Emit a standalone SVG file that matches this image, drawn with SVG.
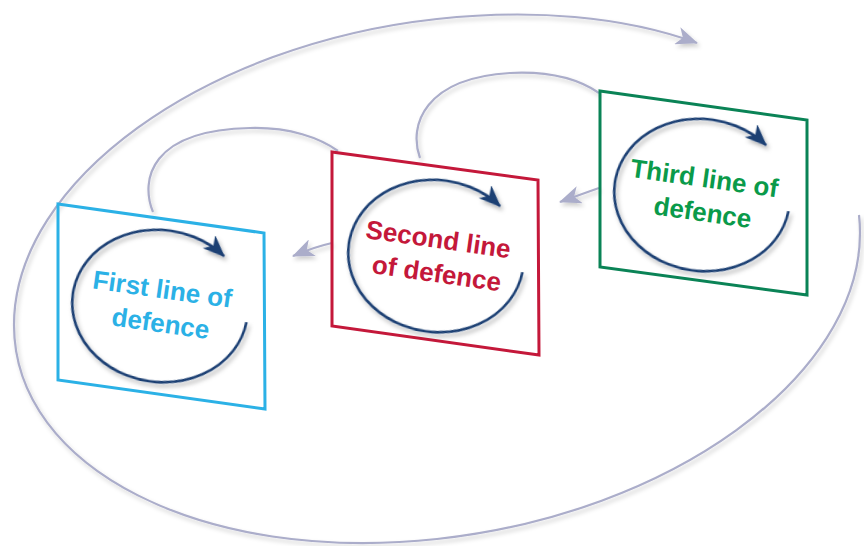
<svg xmlns="http://www.w3.org/2000/svg" width="864" height="546" viewBox="0 0 864 546">
<defs>
<style>
.flow{fill:none;stroke:#abadca;stroke-width:2.2}
.frame{fill:none;stroke-width:3}
.cyc{fill:none;stroke:#1b3f73;stroke-width:2.6}
.lbl{font-family:"Liberation Sans",Arial,sans-serif;font-weight:bold;font-size:26px;text-anchor:middle}
</style>
<filter id="sh" x="-20%" y="-20%" width="140%" height="140%">
<feDropShadow dx="2.5" dy="3" stdDeviation="2" flood-color="#000" flood-opacity="0.3"/>
</filter>
<filter id="sh2" x="-20%" y="-20%" width="140%" height="140%">
<feDropShadow dx="2" dy="3" stdDeviation="2" flood-color="#000" flood-opacity="0.2"/>
</filter>
<marker id="ah" viewBox="0 0 22 18" refX="21" refY="9" markerWidth="22" markerHeight="18" markerUnits="userSpaceOnUse" orient="auto">
<path d="M0,0 L22,9 L0,18 L6,9 Z" fill="#1b3f73"/>
</marker>
<marker id="ahg" viewBox="0 0 22 18" refX="21" refY="9" markerWidth="22" markerHeight="18" markerUnits="userSpaceOnUse" orient="auto">
<path d="M0,0 L22,9 L0,18 L6,9 Z" fill="#abadca"/>
</marker>
</defs>
<rect width="864" height="546" fill="#fff"/>
<g id="connectors" filter="url(#sh2)">
<path class="flow" marker-end="url(#ahg)" d="M 859 215 C 859.7 221, 860 226.9, 860 233 C 860 376.6, 670.6 513.6, 437 539 C 203.4 564.4, 14 468.6, 14 325 C 14 181.4, 203.4 44.4, 437 19 C 531.4 8.7, 623 16, 697 43"/>
<path class="flow" d="M 153 212 C 140 180, 150 130, 250 128 C 290 127, 320 138, 338 151"/>
<path class="flow" d="M 420 158 C 408 125, 425 78, 510 73 C 550 71, 580 80, 599 93"/>
<path class="flow" marker-end="url(#ahg)" d="M 332 243 Q 314 247 293 256"/>
<path class="flow" marker-end="url(#ahg)" d="M 599 188 Q 582 194 560 202"/>
</g>
<g id="first">
<polygon class="frame" stroke="#2bb1e6" points="58,204 264,233 265,409 58,380"/>
<g transform="translate(160,306) rotate(8)">
<path class="cyc" filter="url(#sh)" marker-end="url(#ah)" d="M 87.9 4 A 88 76 0 1 1 56.6 -58.2"/>
<text class="lbl" fill="#2bb1e6"><tspan x="0" y="-8">First line of</tspan><tspan x="3" y="26">defence</tspan></text>
</g>
</g>
<g id="second">
<polygon class="frame" stroke="#c4183a" points="332,152 538,180 539,355 332,326"/>
<g transform="translate(436,256) rotate(8)">
<path class="cyc" filter="url(#sh)" marker-end="url(#ah)" d="M 87.9 4 A 88 76 0 1 1 56.6 -58.2"/>
<text class="lbl" fill="#c4183a"><tspan x="0" y="-8">Second line</tspan><tspan x="3" y="26">of defence</tspan></text>
</g>
</g>
<g id="third">
<polygon class="frame" stroke="#0a8356" points="600,91 807,120 807,295 600,267"/>
<g transform="translate(702,195) rotate(8)">
<path class="cyc" filter="url(#sh)" marker-end="url(#ah)" d="M 87.9 4 A 88 76 0 1 1 56.6 -58.2"/>
<text class="lbl" fill="#0a9a4a"><tspan x="0" y="-8">Third line of</tspan><tspan x="3" y="26">defence</tspan></text>
</g>
</g>
</svg>
